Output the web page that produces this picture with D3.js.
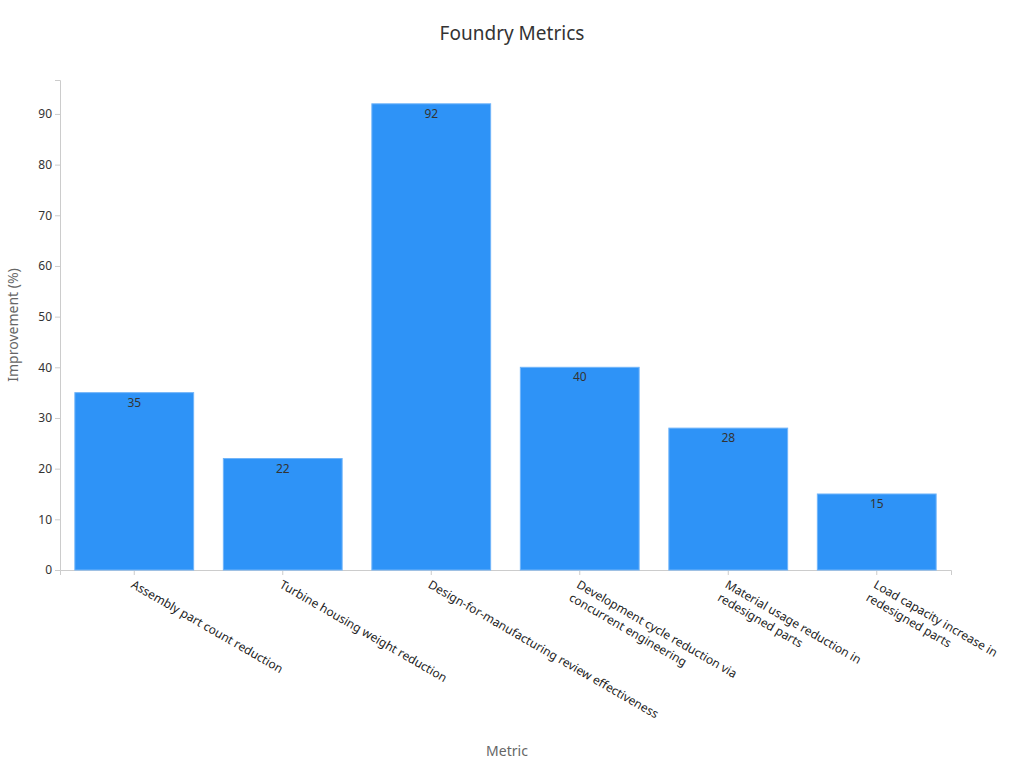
<!DOCTYPE html><html><head><meta charset="utf-8"><script src="https://cdn.jsdelivr.net/npm/d3@7"></script>
<style>body{margin:0;background:#fff;font-family:"Noto Sans",sans-serif}</style></head><body><svg id="c" width="1024" height="768"></svg>
<script>
const categories=[["Assembly part count reduction"],["Turbine housing weight reduction"],["Design-for-manufacturing review effectiveness"],["Development cycle reduction via","concurrent engineering"],["Material usage reduction in","redesigned parts"],["Load capacity increase in","redesigned parts"]];
const values=[35,22,92,40,28,15];
const yTicks=[0,10,20,30,40,50,60,70,80,90];
const svg=d3.select("#c");
const m={l:60,r:951,t:80,b:570};
const x=d3.scaleBand().domain(d3.range(6)).range([m.l,m.r]).paddingInner(0.2).paddingOuter(0.1);
const y=d3.scaleLinear().domain([0,96.7]).range([m.b,m.t]);
svg.append("text").attr("x",512).attr("y",40).attr("text-anchor","middle").attr("font-size",19).attr("fill","#333").text("Foundry Metrics");
const ya=svg.append("g").attr("transform",`translate(${m.l},0)`).call(d3.axisLeft(y).tickValues(yTicks).tickSize(5).tickPadding(3));
ya.selectAll("text").attr("font-size",12).attr("fill","#333").attr("font-family","Noto Sans");
ya.selectAll("line,path").attr("stroke","#ccc");
const xa=svg.append("g").attr("transform",`translate(0,${m.b})`).call(d3.axisBottom(x).tickSize(5).tickFormat(""));
xa.selectAll("line,path").attr("stroke","#ccc");
svg.selectAll("rect.b").data(values).join("rect").attr("x",(d,i)=>x(i)).attr("width",x.bandwidth()).attr("y",d=>y(d)).attr("height",d=>y(0)-y(d)).attr("fill","#2e93f7").attr("stroke","#70b4f9").attr("stroke-width",1);
svg.selectAll("text.v").data(values).join("text").attr("x",(d,i)=>x(i)+x.bandwidth()/2).attr("y",d=>y(d)+14).attr("text-anchor","middle").attr("font-size",12).attr("fill","#333").text(d=>d);
categories.forEach((lines,i)=>{
  const cx=x(i)+x.bandwidth()/2;
  const t=svg.append("text").attr("transform",`translate(${cx-4},${m.b+17}) rotate(30)`).attr("font-size",12).attr("fill","#222");
  lines.forEach((l,j)=>t.append("tspan").attr("x",0).attr("dy",j?15:0).text(l));
});
svg.append("text").attr("x",507).attr("y",756).attr("text-anchor","middle").attr("font-size",14).attr("fill","#666").text("Metric");
svg.append("text").attr("transform","translate(18,325) rotate(-90)").attr("text-anchor","middle").attr("font-size",14).attr("fill","#666").text("Improvement (%)");
</script></body></html>
